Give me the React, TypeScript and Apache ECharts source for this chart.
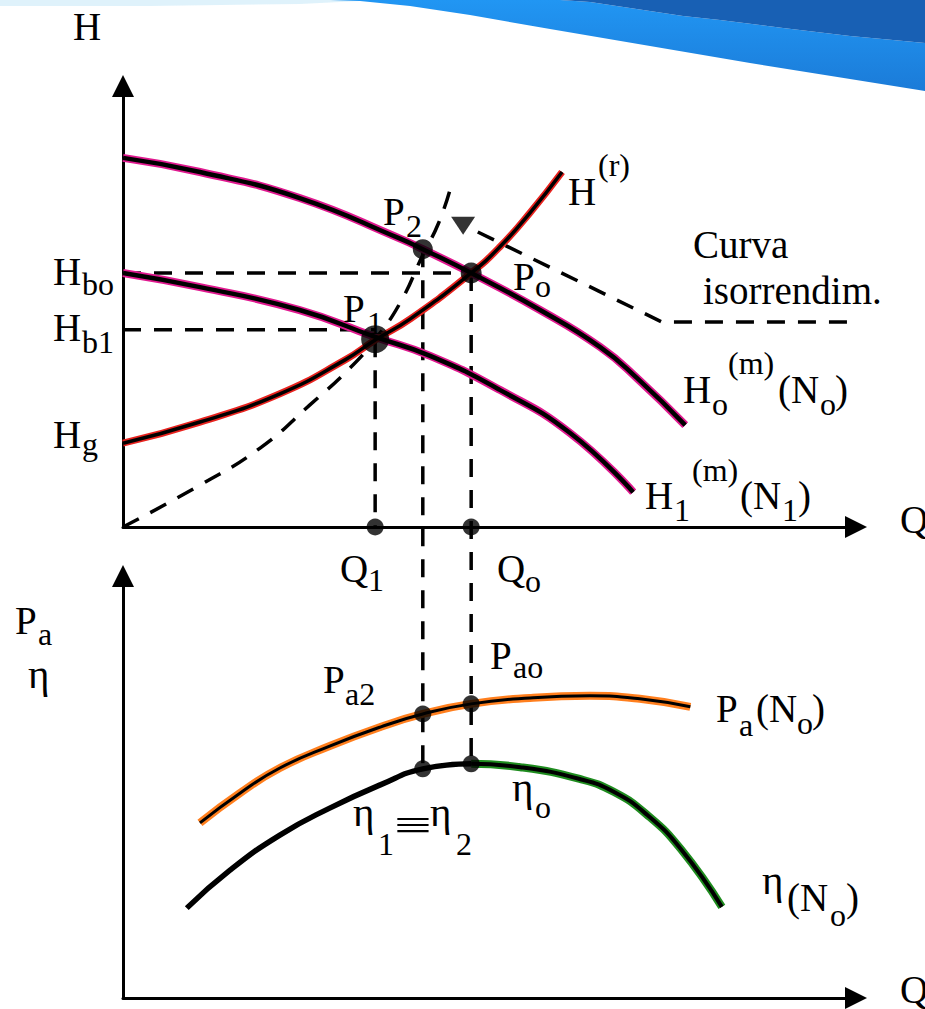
import { useEffect, useRef } from "react";
import * as echarts from "echarts";

// ---------- upper plot: head H versus flow Q ----------
// pump head curve at speed No
const headNo: [number, number][] = [
  [0, 83.7], [10.5, 80.5], [24.1, 74.6], [37.8, 65.4], [40.9, 63.0], [47.5, 57.6],
  [56.9, 49.2], [65.1, 40.8], [70.1, 33.8], [76.7, 23.1],
];
// pump head curve at speed N1
const headN1: [number, number][] = [
  [0, 57.6], [10.5, 54.4], [24.1, 49.2], [34.4, 43.1], [41.9, 38.8], [51.4, 31.1],
  [61.0, 21.3], [69.6, 7.9],
];
// system (pipe) curve H(r)
const systemHead: [number, number][] = [
  [0, 19.0], [10.5, 23.8], [21.4, 30.2], [30.3, 37.9], [34.4, 42.4], [39.2, 47.2],
  [47.5, 57.6], [51.4, 63.5], [55.5, 71.2], [59.9, 80.5],
];
// iso-efficiency curve through the origin
const isoEfficiency: [number, number][] = [
  [0, 0], [10.5, 9.5], [18.7, 17.9], [25.5, 27.7], [31.0, 36.1], [34.4, 42.6],
  [37.8, 50.8], [40.9, 61.7], [43.0, 68.7], [44.6, 76.4],
];
// leader line of the "Curva isorrendim." note
const isoLeader: [number, number][] = [[48.4, 66.9], [73.5, 46.5], [103.3, 46.5]];
const isoArrow: [number, number] = [46.4, 68.3];

// operating points
const Q1 = 34.4;
const Q2 = 40.9;
const Qo = 47.5;
const H_P1 = 42.6;
const H_P2 = 63.0;
const H_Po = 57.6;
const H_bo = 57.6;
const H_b1 = 44.7;

// ---------- lower plot: shaft power Pa and efficiency eta ----------
const powerNo: [number, number][] = [
  [10.5, 41.5], [16.0, 48.6], [21.4, 54.5], [28.2, 59.7], [35.1, 64.2], [40.9, 67.3],
  [47.5, 69.7], [55.5, 71.1], [63.7, 71.6], [70.5, 70.9], [77.4, 69.0],
];
const effRising: [number, number][] = [
  [8.7, 21.3], [14.6, 30.3], [21.4, 38.6], [28.2, 45.0], [35.1, 50.5], [40.9, 54.3], [47.5, 55.5],
];
const effFalling: [number, number][] = [
  [47.5, 55.5], [54.2, 54.7], [62.3, 51.9], [67.0, 48.8], [71.5, 43.4], [76.1, 35.3], [81.7, 21.6],
];
const P_a2 = 67.3;
const P_ao = 69.7;
const eta1 = 54.3;
const etaO = 55.5;

const SERIF = "'Liberation Serif', 'Times New Roman', serif";
const M = 39;
const S = 32;
const G = 41;

// text pieces: [text, left, middle y, font size, optional horizontal stretch]
const labels: [string, number, number, number, number?][] = [
  ["H", 73, 26, M],
  ["P", 383, 211, M], ["2", 406, 226, S],
  ["P", 343, 308, M], ["1", 367, 323, S],
  ["P", 513, 276, M], ["o", 535, 286, S],
  ["H", 568, 191, M], ["(r)", 598, 165, S],
  ["Curva", 693, 244, M],
  ["isorrendim.", 703, 290, M],
  ["H", 53, 271, M], ["bo", 82, 284, S],
  ["H", 53, 327, M], ["b1", 82, 342, S],
  ["H", 53, 434, M], ["g", 82, 444, S],
  ["H", 683, 389, M], ["o", 712, 404, S], ["(m)", 728, 363, S], ["(N", 778, 389, M], ["o", 820, 404, S], [")", 835, 389, M],
  ["H", 645, 495, M], ["1", 674, 510, S], ["(m)", 692, 470, S], ["(N", 740, 495, M], ["1", 782, 510, S], [")", 798, 495, M],
  ["Q", 900, 519, M],
  ["Q", 340, 568, M], ["1", 368, 580, S],
  ["Q", 497, 568, M], ["o", 525, 581, S],
  ["P", 15, 620, M], ["a", 38, 634, S],
  ["η", 28, 674, G],
  ["P", 323, 679, M], ["a2", 345, 694, S],
  ["P", 490, 655, M], ["ao", 513, 667, S],
  ["η", 353, 812, G], ["1", 378, 844, S], ["≡", 394, 825, 42, 1.6], ["η", 430, 812, G], ["2", 456, 844, S],
  ["η", 512, 787, G], ["o", 535, 807, S],
  ["P", 716, 708, M], ["a", 739, 725, S], ["(N", 756, 708, M], ["o", 797, 723, S], [")", 812, 708, M],
  ["η", 762, 880, G], ["(N", 787, 897, M], ["o", 830, 915, S], [")", 846, 897, M],
  ["Q", 900, 989, M],
];

const PINK = "#e0198f";
const RED = "#e8231f";
const ORANGE = "#ff7f1e";
const GREEN = "#1f8c1f";
const DASH = [18, 13];

function axis(gridIndex: number) {
  return {
    gridIndex,
    type: "value",
    min: 0,
    max: 100,
    axisLine: {
      show: true,
      onZero: false,
      symbol: ["none", "triangle"],
      symbolSize: [22, 22],
      lineStyle: { color: "#000", width: 3 },
    },
    axisTick: { show: false },
    axisLabel: { show: false },
    splitLine: { show: false },
  };
}

function dashed(id: string, data: [number, number][], smooth = 0) {
  return {
    id,
    type: "line",
    xAxisIndex: 0,
    yAxisIndex: 0,
    data,
    smooth,
    symbol: "none",
    clip: false,
    silent: true,
    z: 1,
    lineStyle: { color: "#000", width: 3.5, type: DASH },
  };
}

function outlined(grid: number, data: [number, number][], color: string, outer: number, inner: number) {
  const base = {
    type: "line",
    xAxisIndex: grid,
    yAxisIndex: grid,
    data,
    smooth: 0.5,
    symbol: "none",
    silent: true,
  };
  return [
    { ...base, z: 2, lineStyle: { color, width: outer } },
    { ...base, z: 3, lineStyle: { color: "#000", width: inner } },
  ];
}

function dots(grid: number, items: { value: [number, number]; size: number }[]) {
  return {
    type: "scatter",
    xAxisIndex: grid,
    yAxisIndex: grid,
    clip: false,
    silent: true,
    z: 5,
    itemStyle: { color: "#000" },
    data: items.map((d) => ({ value: d.value, symbolSize: d.size })),
  };
}

function buildOption() {
  const swoosh = [
    {
      type: "polygon",
      z: 0,
      shape: { points: [[0, 0], [380, 0], [300, 4], [150, 6], [0, 6]] },
      style: { fill: "rgba(196,232,248,0.55)" },
    },
    {
      type: "polygon",
      z: 0,
      shape: {
        points: [
          [330, 0], [560, 0], [590, 2], [630, 8], [683, 16], [720, 20], [783, 28], [850, 36], [925, 43],
          [925, 91], [850, 79], [750, 63], [650, 46], [550, 29], [470, 15], [410, 6], [360, 1],
        ],
      },
      style: {
        fill: new echarts.graphic.LinearGradient(0, 0, 0, 1, [
          { offset: 0, color: "#2196f3" },
          { offset: 1, color: "#1b7bd8" },
        ]),
      },
    },
    {
      type: "polygon",
      z: 0,
      shape: {
        points: [
          [560, 0], [925, 0], [925, 43], [850, 36], [783, 28], [720, 20], [683, 16], [630, 8], [590, 2],
        ],
      },
      style: { fill: "#1860b4" },
    },
  ];

  const texts = labels.map(([text, x, y, size, stretch]) => ({
    type: "text",
    x,
    y,
    scaleX: stretch ?? 1,
    z: 100,
    silent: true,
    style: {
      text,
      fill: "#000",
      font: `${size}px ${SERIF}`,
      align: "left",
      verticalAlign: "middle",
      textAlign: "left",
      textVerticalAlign: "middle",
    },
  }));

  const series: any[] = [
    dashed("hbo", [[0, H_bo], [Qo, H_bo]]),
    dashed("hb1", [[0, H_b1], [Q1, H_b1]]),
    dashed("dropQ1", [[Q1, H_P1], [Q1, 0]]),
    dashed("dropQ2", [[Q2, H_P2], [Q2, 0]]),
    dashed("dropQo", [[Qo, H_Po], [Qo, 0]]),
    dashed("iso", isoEfficiency, 0.5),
    dashed("isoLeader", isoLeader),
    ...outlined(0, headNo, PINK, 8, 4.5),
    ...outlined(0, headN1, PINK, 8, 4.5),
    ...outlined(0, systemHead, RED, 7, 3.5),
    ...outlined(1, powerNo, ORANGE, 8, 3),
    {
      type: "line",
      xAxisIndex: 1,
      yAxisIndex: 1,
      data: effRising,
      smooth: 0.5,
      symbol: "none",
      silent: true,
      z: 3,
      lineStyle: { color: "#000", width: 5.5 },
    },
    ...outlined(1, effFalling, GREEN, 8, 4),
    dots(0, [
      { value: [Q1, H_P1], size: 28 },
      { value: [Q2, H_P2], size: 20 },
      { value: [Qo, H_Po], size: 21 },
      { value: [Q1, 0], size: 17 },
      { value: [Qo, 0], size: 17 },
    ]),
    {
      type: "scatter",
      xAxisIndex: 0,
      yAxisIndex: 0,
      silent: true,
      clip: false,
      z: 5,
      symbol: "triangle",
      symbolRotate: 180,
      symbolSize: [24, 18],
      itemStyle: { color: "#000" },
      data: [isoArrow],
    },
    dots(1, [
      { value: [Q2, P_a2], size: 17 },
      { value: [Qo, P_ao], size: 17 },
      { value: [Q2, eta1], size: 17 },
      { value: [Qo, etaO], size: 17 },
    ]),
  ];

  return {
    animation: false,
    backgroundColor: "#ffffff",
    grid: [
      { left: 123, top: 86, width: 733, height: 441 },
      { left: 123, top: 576, width: 733, height: 422 },
    ],
    xAxis: [axis(0), axis(1)],
    yAxis: [axis(0), axis(1)],
    graphic: [...swoosh, ...texts],
    series,
  };
}

export default function App() {
  const ref = useRef<HTMLDivElement>(null);

  useEffect(() => {
    const el = ref.current;
    if (!el) return;
    const chart = echarts.init(el, null, { renderer: "svg" });
    chart.setOption(buildOption() as any);

    // carry the Q2 and Qo drop lines down into the lower plot, to its efficiency points
    const intoUpper = (q: number, v: number) => {
      const px = chart.convertToPixel({ gridIndex: 1 } as any, [q, v]) as number[];
      return chart.convertFromPixel({ gridIndex: 0 } as any, px) as number[];
    };
    const low2 = intoUpper(Q2, eta1);
    const lowO = intoUpper(Qo, etaO);
    chart.setOption({
      series: [
        { id: "dropQ2", data: [[Q2, H_P2], [Q2, low2[1]]] },
        { id: "dropQo", data: [[Qo, H_Po], [Qo, lowO[1]]] },
      ],
    });

    return () => chart.dispose();
  }, []);

  return (
    <div
      ref={ref}
      style={{ position: "fixed", left: 0, top: 0, width: 925, height: 1009, background: "#fff" }}
    />
  );
}
